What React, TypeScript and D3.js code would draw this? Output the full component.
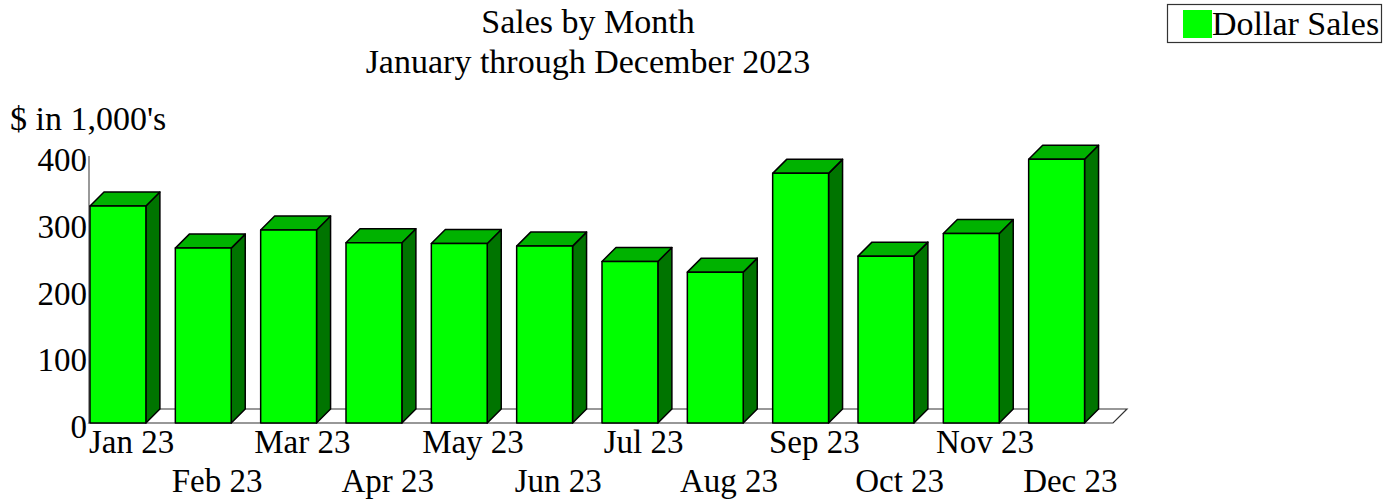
import React from "react";
import * as d3 from "d3";

const months = ["Jan 23","Feb 23","Mar 23","Apr 23","May 23","Jun 23","Jul 23","Aug 23","Sep 23","Oct 23","Nov 23","Dec 23"];
const sales = [325, 262, 289, 270, 269, 265, 242, 226, 374, 250, 284, 395];
const yTicks = [0, 100, 200, 300, 400];
const titleLines = ["Sales by Month", "January through December 2023"];
const yAxisLabel = "$ in 1,000's";
const seriesName = "Dollar Sales";

const W = 1387, H = 502;
const FONT = "'Liberation Serif', 'Times New Roman', serif";
const DEPTH = 14;
const FRONT = "#00ff00", TOP = "#00b200", SIDE = "#007400";

export default function App() {
  const x = d3.scaleBand<string>().domain(months).range([89, 1113]).padding(0);
  const y = d3.scaleLinear().domain([0, 400]).range([423, 156]);
  const bw = x.bandwidth() * 0.655;
  const y0 = y(0);
  return (
    <svg width={W} height={H} style={{ position: "absolute", left: 0, top: 0, background: "#fff" }} fontFamily={FONT}>
      {titleLines.map((t, i) => (
        <text key={t} x={588} y={33 + i * 40} fontSize={34} textAnchor="middle" fill="#000">{t}</text>
      ))}
      <text x={10} y={130} fontSize={34} fill="#000">{yAxisLabel}</text>
      {/* floor */}
      <polygon
        points={`${x.range()[0]},${y0} ${x.range()[1]},${y0} ${x.range()[1] + DEPTH},${y0 - DEPTH} ${x.range()[0] + DEPTH},${y0 - DEPTH}`}
        fill="#fff" stroke="#333" strokeWidth={1.2}
      />
      <line x1={89} x2={89} y1={y(400)} y2={y0} stroke="#777" strokeWidth={1.5} />
      {yTicks.map(t => (
        <text key={t} x={87} y={y(t) + 15} fontSize={33} textAnchor="end" fill="#000">{t}</text>
      ))}
      {months.map((m, i) => {
        const x0 = (x(m) as number) + 1;
        const top = y(sales[i]);
        return (
          <g key={m} stroke="#000" strokeWidth={1.5} strokeLinejoin="round">
            <polygon points={`${x0 + bw},${top} ${x0 + bw + DEPTH},${top - DEPTH} ${x0 + bw + DEPTH},${y0 - DEPTH} ${x0 + bw},${y0}`} fill={SIDE} />
            <polygon points={`${x0},${top} ${x0 + DEPTH},${top - DEPTH} ${x0 + bw + DEPTH},${top - DEPTH} ${x0 + bw},${top}`} fill={TOP} />
            <rect x={x0} y={top} width={bw} height={y0 - top} fill={FRONT} />
          </g>
        );
      })}
      {months.map((m, i) => (
        <text key={m} x={(x(m) as number) + x.bandwidth() / 2} y={i % 2 === 0 ? 453 : 492} fontSize={33} textAnchor="middle" fill="#000">{m}</text>
      ))}
      {/* legend */}
      <rect x={1167.5} y={4.5} width={214} height={38} fill="#fff" stroke="#333" strokeWidth={1.2} />
      <rect x={1183} y={10} width={29} height={28} fill={FRONT} />
      <text x={1212} y={35} fontSize={34} fill="#000">{seriesName}</text>
    </svg>
  );
}
